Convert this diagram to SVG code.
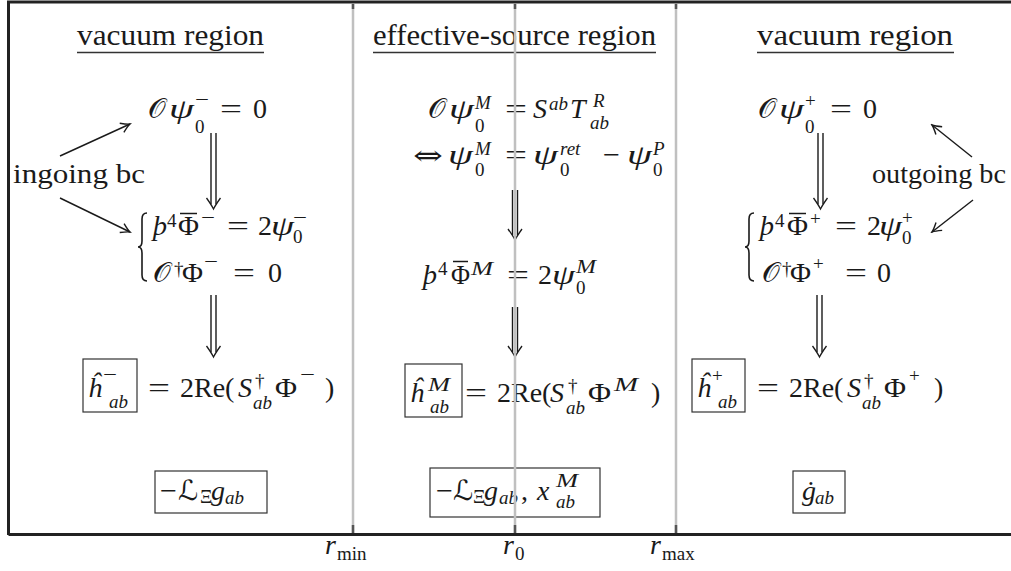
<svg xmlns="http://www.w3.org/2000/svg" width="1011" height="571" viewBox="0 0 1011 571">
<defs>
<style>
.m{font-family:"Liberation Serif","DejaVu Serif",serif;font-size:28px;fill:#1a1a1a}
.i{font-style:italic}
.s{font-size:19px}
.c{font-family:"DejaVu Serif","DejaVu Sans","Noto Sans",serif;font-style:normal}
.ul{stroke:#333;stroke-width:1.5}
.frame{stroke:#222;stroke-width:3;fill:none}
.grid{stroke:#c0c0c0;stroke-width:2.5}
.tick{stroke:#555;stroke-width:2.5}
.box{fill:none;stroke:#333;stroke-width:1.2}
.ln{fill:none;stroke:#1a1a1a;stroke-width:1.4}
.bar{stroke:#1a1a1a;stroke-width:1.5}
.br{fill:none;stroke:#1a1a1a;stroke-width:1.6}
</style>
<marker id="ah" viewBox="-11 -7 13 14" refX="0" refY="0" markerWidth="13" markerHeight="14" orient="auto" markerUnits="userSpaceOnUse"><path d="M-9,-5 Q-3,-1 0,0 Q-3,1 -9,5" fill="none" stroke="#1a1a1a" stroke-width="1.4"/></marker>
<path id="dh" d="M-7,-11 Q-2,-4 0,0 Q2,-4 7,-11" fill="none" stroke="#1a1a1a" stroke-width="1.3"/>
</defs>
<rect width="1011" height="571" fill="#fff"/>

<g id="frame">
<path class="frame" d="M8.5,535 V2 H1011 M8.5,534.5 H1011"/>
</g>

<g id="titles" class="m">
<g id="title-left"><text x="77" y="45" style="font-size:30px" textLength="187" lengthAdjust="spacingAndGlyphs">vacuum region</text><line class="ul" x1="77" y1="52.5" x2="264" y2="52.5"/></g>
<g id="title-mid"><text x="373" y="45" style="font-size:30px" textLength="283" lengthAdjust="spacingAndGlyphs">effective-source region</text><line class="ul" x1="373" y1="52.5" x2="656" y2="52.5"/></g>
<g id="title-right"><text x="757" y="45" style="font-size:30px" textLength="196" lengthAdjust="spacingAndGlyphs">vacuum region</text><line class="ul" x1="757" y1="52.5" x2="954" y2="52.5"/></g>
</g>

<!-- left column -->
<g id="left-eq1" class="m">
<text x="148" y="118" class="c">𝒪</text>
<text x="169" y="118" class="i" textLength="25" lengthAdjust="spacingAndGlyphs">ψ</text>
<text class="s"><tspan x="195" y="133">0</tspan><tspan x="195" y="106" textLength="14" lengthAdjust="spacingAndGlyphs">−</tspan></text>
<text x="220" y="118" textLength="22" lengthAdjust="spacingAndGlyphs">=</text>
<text x="253" y="118">0</text>
</g>
<g id="ingoing" class="m"><text x="13" y="183" textLength="132" lengthAdjust="spacingAndGlyphs">ingoing bc</text></g>
<g id="left-sys" class="m">
<path class="br" d="M147,213 Q142,213 142,219 L142,241 Q142,247 138,247 Q142,247 142,253 L142,275 Q142,281 147,281"/>
<text x="153" y="235" class="i">þ</text>
<text x="167" y="227" class="s">4</text>
<text x="178" y="235" textLength="21" lengthAdjust="spacingAndGlyphs">Φ</text><line class="bar" x1="180" y1="213.5" x2="197" y2="213.5"/>
<text x="201" y="224" class="s" textLength="14" lengthAdjust="spacingAndGlyphs">−</text>
<text x="227" y="235" textLength="22" lengthAdjust="spacingAndGlyphs">=</text>
<text x="258" y="235">2</text>
<text x="271" y="235" class="i" textLength="23" lengthAdjust="spacingAndGlyphs">ψ</text>
<text class="s"><tspan x="293" y="243">0</tspan><tspan x="293" y="224" textLength="14" lengthAdjust="spacingAndGlyphs">−</tspan></text>
<text x="153" y="282" class="c">𝒪</text>
<text x="174" y="275" class="s">†</text>
<text x="182" y="282" textLength="21" lengthAdjust="spacingAndGlyphs">Φ</text>
<text x="204" y="268" class="s" textLength="14" lengthAdjust="spacingAndGlyphs">−</text>
<text x="233" y="282" textLength="22" lengthAdjust="spacingAndGlyphs">=</text>
<text x="268" y="282">0</text>
</g>
<g id="left-h" class="m">
<rect class="box" x="83" y="359" width="54" height="53"/>
<text x="88" y="397" class="i">ĥ</text>
<text class="s"><tspan x="103" y="381" textLength="14" lengthAdjust="spacingAndGlyphs">−</tspan><tspan x="109" y="408" class="i">ab</tspan></text>
<text x="148" y="397" textLength="22" lengthAdjust="spacingAndGlyphs">=</text>
<text x="180" y="397">2Re(</text>
<text x="238" y="397" class="i">S</text>
<text class="s"><tspan x="255" y="387">†</tspan><tspan x="253" y="409" class="i">ab</tspan></text>
<text x="275" y="397" textLength="22" lengthAdjust="spacingAndGlyphs">Φ</text>
<text x="300" y="381" class="s" textLength="15" lengthAdjust="spacingAndGlyphs">−</text>
<text x="325" y="397">)</text>
</g>
<g id="left-gauge" class="m">
<rect class="box" x="155" y="471" width="112" height="42"/>
<text x="160" y="500" textLength="17" lengthAdjust="spacingAndGlyphs">−</text>
<text x="178" y="500" class="c">ℒ</text>
<text x="200" y="503" class="s">Ξ</text>
<text x="211" y="500" class="i">g</text>
<text x="225" y="504" class="s i">ab</text>
</g>

<!-- middle column -->
<g id="mid-eq1" class="m">
<text x="428" y="118" class="c">𝒪</text>
<text x="449" y="118" class="i" textLength="25" lengthAdjust="spacingAndGlyphs">ψ</text>
<text class="s"><tspan x="475" y="109" class="i">M</tspan><tspan x="475" y="132">0</tspan></text>
<text x="505" y="118" textLength="22" lengthAdjust="spacingAndGlyphs">=</text>
<text x="533" y="118" class="i">S</text>
<text x="549" y="110" class="s i">ab</text>
<text x="570" y="118" class="i">T</text>
<text class="s i"><tspan x="593" y="107">R</tspan><tspan x="590" y="129">ab</tspan></text>
</g>
<g id="mid-eq2" class="m">
<text x="413" y="165" class="c" textLength="30" lengthAdjust="spacingAndGlyphs">⇔</text>
<text x="448" y="164" class="i" textLength="25" lengthAdjust="spacingAndGlyphs">ψ</text>
<text class="s"><tspan x="475" y="155" class="i">M</tspan><tspan x="475" y="176">0</tspan></text>
<text x="505" y="164" textLength="22" lengthAdjust="spacingAndGlyphs">=</text>
<text x="533" y="164" class="i" textLength="25" lengthAdjust="spacingAndGlyphs">ψ</text>
<text class="s"><tspan x="560" y="155" class="i">ret</tspan><tspan x="560" y="176">0</tspan></text>
<text x="603" y="164" textLength="17" lengthAdjust="spacingAndGlyphs">−</text>
<text x="627" y="164" class="i" textLength="25" lengthAdjust="spacingAndGlyphs">ψ</text>
<text class="s"><tspan x="653" y="155" class="i">P</tspan><tspan x="653" y="176">0</tspan></text>
</g>
<g id="mid-sys" class="m">
<text x="423" y="284" class="i">þ</text>
<text x="438" y="275" class="s">4</text>
<text x="451" y="284" textLength="19" lengthAdjust="spacingAndGlyphs">Φ</text><line class="bar" x1="453" y1="261.5" x2="468" y2="261.5"/>
<text x="471" y="275" class="s i" textLength="22" lengthAdjust="spacingAndGlyphs">M</text>
<text x="507" y="284" textLength="22" lengthAdjust="spacingAndGlyphs">=</text>
<text x="538" y="284">2</text>
<text x="552" y="284" class="i" textLength="23" lengthAdjust="spacingAndGlyphs">ψ</text>
<text class="s"><tspan x="576" y="273" class="i" textLength="20" lengthAdjust="spacingAndGlyphs">M</tspan><tspan x="576" y="294">0</tspan></text>
</g>
<g id="mid-h" class="m">
<rect class="box" x="405" y="364" width="57" height="53"/>
<text x="410" y="402" class="i">ĥ</text>
<text class="s i"><tspan x="428" y="391" textLength="22" lengthAdjust="spacingAndGlyphs">M</tspan><tspan x="430" y="413">ab</tspan></text>
<text x="465" y="402" textLength="22" lengthAdjust="spacingAndGlyphs">=</text>
<text x="497" y="402">2Re(</text>
<text x="550" y="402" class="i">S</text>
<text class="s"><tspan x="568" y="392">†</tspan><tspan x="566" y="414" class="i">ab</tspan></text>
<text x="588" y="402" textLength="23" lengthAdjust="spacingAndGlyphs">Φ</text>
<text x="614" y="391" class="s i" textLength="24" lengthAdjust="spacingAndGlyphs">M</text>
<text x="651" y="402">)</text>
</g>
<g id="mid-gauge" class="m">
<rect class="box" x="430" y="468" width="170" height="49"/>
<text x="436" y="500" textLength="17" lengthAdjust="spacingAndGlyphs">−</text>
<text x="453" y="500" class="c">ℒ</text>
<text x="473" y="503" class="s">Ξ</text>
<text x="484" y="500" class="i">g</text>
<text x="499" y="504" class="s i">ab</text>
<text x="521" y="500">,</text>
<text x="537" y="500" class="i">x</text>
<text class="s i"><tspan x="556" y="487" textLength="22" lengthAdjust="spacingAndGlyphs">M</tspan><tspan x="556" y="508">ab</tspan></text>
</g>

<!-- right column -->
<g id="right-eq1" class="m">
<text x="758" y="118" class="c">𝒪</text>
<text x="779" y="118" class="i" textLength="25" lengthAdjust="spacingAndGlyphs">ψ</text>
<text class="s"><tspan x="805" y="133">0</tspan><tspan x="805" y="107">+</tspan></text>
<text x="830" y="118" textLength="22" lengthAdjust="spacingAndGlyphs">=</text>
<text x="863" y="118">0</text>
</g>
<g id="outgoing" class="m"><text x="872" y="183" textLength="134" lengthAdjust="spacingAndGlyphs">outgoing bc</text></g>
<g id="right-sys" class="m">
<path class="br" d="M754,213 Q749,213 749,219 L749,241 Q749,247 745,247 Q749,247 749,253 L749,275 Q749,281 754,281"/>
<text x="760" y="235" class="i">þ</text>
<text x="775" y="227" class="s">4</text>
<text x="787" y="235" textLength="21" lengthAdjust="spacingAndGlyphs">Φ</text><line class="bar" x1="789" y1="213.5" x2="806" y2="213.5"/>
<text x="810" y="225" class="s">+</text>
<text x="835" y="235" textLength="22" lengthAdjust="spacingAndGlyphs">=</text>
<text x="867" y="235">2</text>
<text x="879" y="235" class="i" textLength="23" lengthAdjust="spacingAndGlyphs">ψ</text>
<text class="s"><tspan x="902" y="244">0</tspan><tspan x="902" y="224">+</tspan></text>
<text x="762" y="282" class="c">𝒪</text>
<text x="782" y="275" class="s">†</text>
<text x="790" y="282" textLength="21" lengthAdjust="spacingAndGlyphs">Φ</text>
<text x="813" y="270" class="s">+</text>
<text x="845" y="282" textLength="22" lengthAdjust="spacingAndGlyphs">=</text>
<text x="877" y="282">0</text>
</g>
<g id="right-h" class="m">
<rect class="box" x="692" y="359" width="53" height="53"/>
<text x="697" y="397" class="i">ĥ</text>
<text class="s"><tspan x="712" y="382">+</tspan><tspan x="718" y="408" class="i">ab</tspan></text>
<text x="757" y="397" textLength="22" lengthAdjust="spacingAndGlyphs">=</text>
<text x="789" y="397">2Re(</text>
<text x="847" y="397" class="i">S</text>
<text class="s"><tspan x="864" y="387">†</tspan><tspan x="862" y="409" class="i">ab</tspan></text>
<text x="884" y="397" textLength="22" lengthAdjust="spacingAndGlyphs">Φ</text>
<text x="909" y="382" class="s">+</text>
<text x="934" y="397">)</text>
</g>
<g id="right-gauge" class="m">
<rect class="box" x="793" y="471" width="52" height="42"/>
<text x="802" y="500" class="i">ġ</text>
<text x="815" y="504" class="s i">ab</text>
</g>

<g id="connectors">
<line class="ln" x1="60" y1="156" x2="130" y2="124" marker-end="url(#ah)"/>
<line class="ln" x1="60" y1="198" x2="130" y2="232" marker-end="url(#ah)"/>
<line class="ln" x1="972" y1="157" x2="932" y2="125" marker-end="url(#ah)"/>
<line class="ln" x1="973" y1="200" x2="932" y2="232" marker-end="url(#ah)"/>
<path class="ln" d="M211,133 V204 M216,133 V204"/><use href="#dh" x="213.5" y="209"/>
<path class="ln" d="M211,295 V352 M216,295 V352"/><use href="#dh" x="213.5" y="357"/>
<path class="ln" d="M512.5,190 V235 M517.5,190 V235"/><use href="#dh" x="515" y="240"/>
<path class="ln" d="M512.5,307 V352 M517.5,307 V352"/><use href="#dh" x="515" y="357"/>
<path class="ln" d="M818,133 V204 M823,133 V204"/><use href="#dh" x="820.5" y="209"/>
<path class="ln" d="M817,295 V352 M822,295 V352"/><use href="#dh" x="819.5" y="357"/>
</g>

<g id="grid">
<line class="grid" x1="353" y1="3" x2="353" y2="533"/>
<line class="grid" x1="515" y1="3" x2="515" y2="533"/>
<line class="grid" x1="676" y1="3" x2="676" y2="533"/>
<path class="tick" d="M353,3.5 V9 M515,3.5 V9 M676,3.5 V9 M353,525 V533 M515,525 V533 M676,525 V533"/>
</g>

<g id="axis-labels" class="m">
<text x="325" y="554" class="i">r</text><text x="337" y="560" class="s">min</text>
<text x="503" y="554" class="i">r</text><text x="515" y="560" class="s">0</text>
<text x="650" y="554" class="i">r</text><text x="662" y="560" class="s">max</text>
</g>
</svg>
